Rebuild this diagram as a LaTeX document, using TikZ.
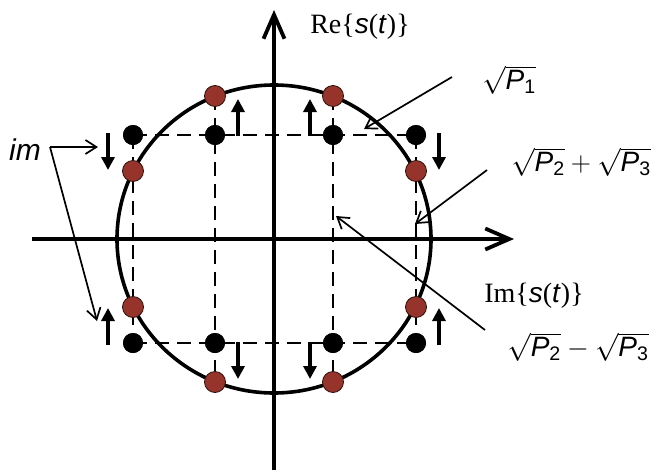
\RequirePackage{fix-cm}
\documentclass[tikz,border=0pt]{standalone}
\usepackage{amsmath}
\usepackage{fontspec}
\setmainfont{Liberation Serif}
\setsansfont{Liberation Sans}
\usetikzlibrary{arrows.meta}
\definecolor{dotred}{RGB}{150,52,44}
\newcommand{\sig}{\textsf{\itshape s}(\textsf{\itshape t})}
\newcommand{\rP}[1]{\sqrt{\textsf{\itshape P}_{\textsf{#1}}}}
\begin{document}
\begin{tikzpicture}[x=1pt,y=-1pt,
  axisline/.style={line width=3.8pt,-{Straight Barb[length=24pt,width=21pt,line width=3.8pt]}},
  ring/.style={line width=3.6pt},
  dashline/.style={line width=2.8pt,dash pattern=on 14pt off 8pt},
  bdot/.style={circle,fill=black,inner sep=0pt,minimum size=20pt},
  rdot/.style={circle,fill=dotred,draw=black!70!dotred,line width=0.8pt,inner sep=0pt,minimum size=21pt},
  shiftarrow/.style={line width=3.6pt,-{Triangle[length=13pt,width=13pt]}},
  note/.style={line width=1.7pt,-{Straight Barb[length=11pt,width=14pt,line width=1.7pt]}},
  lbl/.style={inner sep=0pt,font=\fontsize{28}{32}\selectfont}
]
\useasboundingbox (0,0) rectangle (657,472);
% axes
\coordinate (xs) at (32,239);
\coordinate (xe) at (514,239);
\coordinate (ys) at (274,470);
\coordinate (ye) at (274,10);
\draw[axisline] (xs) -- (xe);
\draw[axisline] (ys) -- (ye);
% circle
\coordinate (c) at (274,239);
\draw[ring] (c) ellipse [x radius=157pt, y radius=154pt];
% black dots
\node[bdot] (b1) at (133,135) {};
\node[bdot] (b2) at (215,135) {};
\node[bdot] (b3) at (333,135) {};
\node[bdot] (b4) at (416,135) {};
\node[bdot] (b5) at (133,343) {};
\node[bdot] (b6) at (215,343) {};
\node[bdot] (b7) at (333,343) {};
\node[bdot] (b8) at (416,343) {};
% red dot positions
\coordinate (r1) at (215,96);
\coordinate (r2) at (333,96);
\coordinate (r3) at (133,171);
\coordinate (r4) at (416,171);
\coordinate (r5) at (133,307);
\coordinate (r6) at (416,307);
\coordinate (r7) at (215,382);
\coordinate (r8) at (333,382);
% dashed grid
\draw[dashline] (b1.center) -- (b4.center);
\draw[dashline] (b5.center) -- (b8.center);
\draw[dashline] (b1.center) -- (b5.center);
\draw[dashline] (b4.center) -- (b8.center);
\draw[dashline] (r1) -- (r7);
\draw[dashline] (r2) -- (r8);
% redraw dots on top
\foreach \n in {b1,b2,b3,b4,b5,b6,b7,b8} {\fill (\n) circle[radius=10pt];}
\foreach \n in {r1,r2,r3,r4,r5,r6,r7,r8} {\node[rdot] at (\n) {};}
% shift arrows
\coordinate (a1s) at (108,133); \coordinate (a1e) at (108,170);
\coordinate (a2s) at (238,136); \coordinate (a2e) at (238,99);
\coordinate (a3s) at (310,136); \coordinate (a3e) at (310,99);
\coordinate (a4s) at (439,133); \coordinate (a4e) at (439,170);
\coordinate (a5s) at (108,345); \coordinate (a5e) at (108,308);
\coordinate (a6s) at (238,342); \coordinate (a6e) at (238,379);
\coordinate (a7s) at (310,342); \coordinate (a7e) at (310,379);
\coordinate (a8s) at (439,345); \coordinate (a8e) at (439,308);
\foreach \i in {1,...,8} {\draw[shiftarrow] (a\i s) -- (a\i e);}
% labels
\node[lbl] (re) at (360,27) {Re\{\sig\}};
\node[lbl] (im) at (534,296) {Im\{\sig\}};
\node[lbl] (p1) at (509,80) {$\rP{1}$};
\node[lbl] (pp) at (581,162) {$\rP{2}+\rP{3}$};
\node[lbl] (pm) at (578,347) {$\rP{2}-\rP{3}$};
\node[lbl,font=\fontsize{30}{34}\selectfont] (imlab) at (25,150) {\textsf{\itshape im}};
% annotation arrows
\coordinate (k) at (50,147);
\coordinate (kt1) at (98,147);
\coordinate (kt2) at (97,321);
\draw[note] (k) -- (kt1);
\draw[note] (k) -- (kt2);
\coordinate (p1s) at (452,77); \coordinate (p1t) at (364,129);
\draw[note] (p1s) -- (p1t);
\coordinate (pps) at (487,170); \coordinate (ppt) at (415,224);
\draw[note] (pps) -- (ppt);
\coordinate (pms) at (485,330); \coordinate (pmt) at (336,216);
\draw[note] (pms) -- (pmt);
\end{tikzpicture}
\end{document}
